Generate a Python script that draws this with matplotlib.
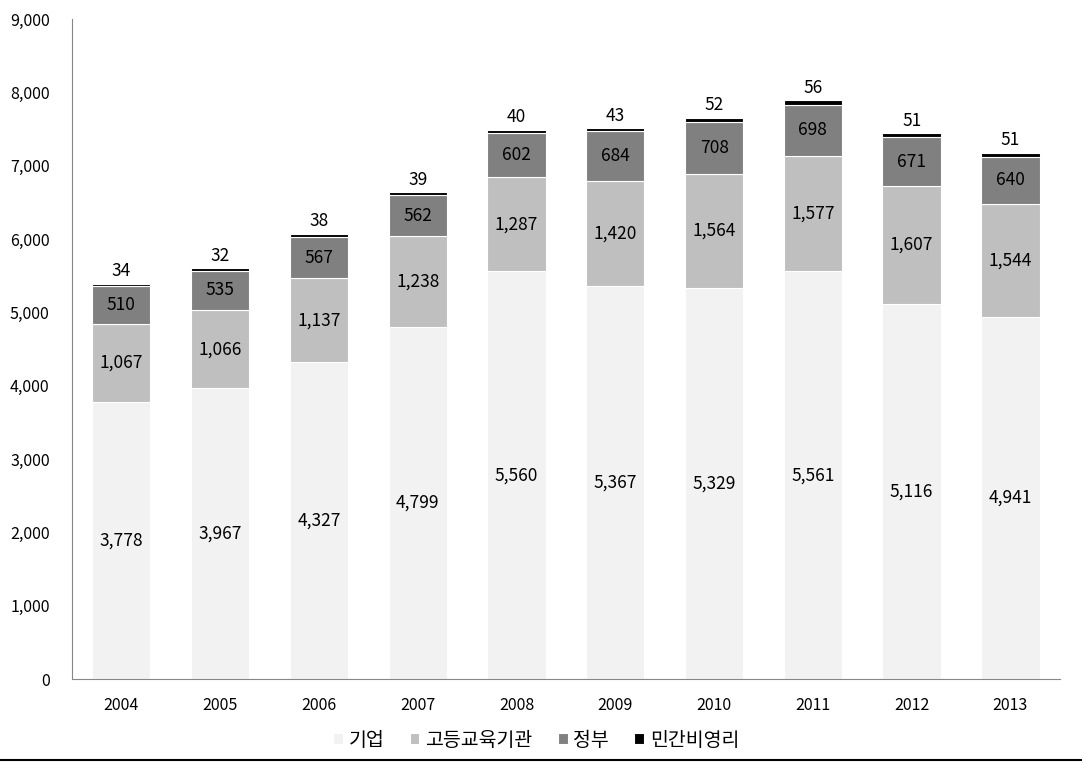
import numpy as np
import matplotlib.pyplot as plt
from matplotlib.lines import Line2D

plt.rcParams['font.family'] = ['Noto Sans CJK KR', 'DejaVu Sans']

years = ['2004', '2005', '2006', '2007', '2008', '2009', '2010', '2011', '2012', '2013']
company = [3778, 3967, 4327, 4799, 5560, 5367, 5329, 5561, 5116, 4941]
univ = [1067, 1066, 1137, 1238, 1287, 1420, 1564, 1577, 1607, 1544]
gov = [510, 535, 567, 562, 602, 684, 708, 698, 671, 640]
nonprofit = [34, 32, 38, 39, 40, 43, 52, 56, 51, 51]

series = [
    ('기업', company, '#f2f2f2'),
    ('고등교육기관', univ, '#bfbfbf'),
    ('정부', gov, '#808080'),
    ('민간비영리', nonprofit, '#000000'),
]

fig = plt.figure(figsize=(10.82, 7.69), dpi=100)
ax = fig.add_axes([0.0665, 0.117, 0.913, 0.858])

x = np.arange(len(years))
bottom = np.zeros(len(years))
for name, vals, color in series:
    vals = np.array(vals)
    ax.bar(x, vals, 0.59, bottom=bottom, color=color, edgecolor='white',
           linewidth=0.8, label=name)
    for xi, b, v in zip(x, bottom, vals):
        if name == '민간비영리':
            ax.text(xi, b + v + 50, f'{v:,}', ha='center', va='bottom', fontsize=12.5)
        else:
            ax.text(xi, b + v / 2, f'{v:,}', ha='center', va='center', fontsize=12.5)
    bottom = bottom + vals

ax.set_xlim(-0.5, len(years) - 0.5)
ax.set_ylim(0, 9000)
ax.set_yticks(range(0, 9001, 1000))
ax.set_yticklabels([f'{v:,}' for v in range(0, 9001, 1000)])
ax.set_xticks(x)
ax.set_xticklabels(years)
ax.tick_params(axis='both', length=0, labelsize=11.5)
ax.tick_params(axis='x', pad=13)
ax.tick_params(axis='y', pad=16)
for s in ['top', 'right']:
    ax.spines[s].set_visible(False)
for s in ['left', 'bottom']:
    ax.spines[s].set_color('#868686')

ax.legend(loc='upper center', bbox_to_anchor=(0.47, -0.05), ncol=4, frameon=False,
          fontsize=14, handlelength=0.5, handleheight=0.5, handletextpad=0.3,
          columnspacing=1.3)

fig.add_artist(Line2D([0, 1], [0.012, 0.012], color='black', linewidth=1.5,
                      transform=fig.transFigure))

fig.savefig('out.png', dpi=100)
